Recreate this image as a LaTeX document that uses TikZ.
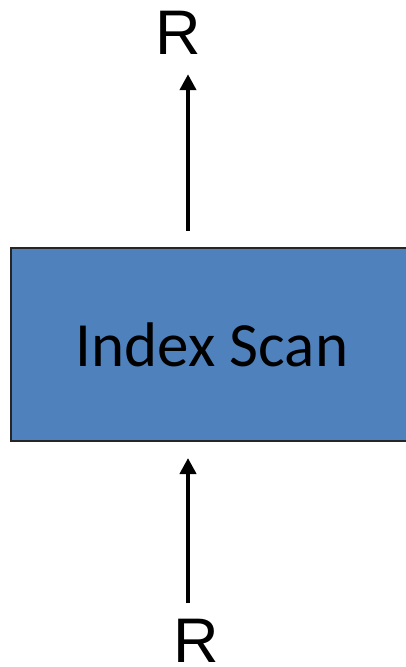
\documentclass[tikz,border=0pt]{standalone}
\usepackage{fontspec}
\setmainfont{Carlito}
\newfontfamily\arialfont{Liberation Sans}
\usetikzlibrary{arrows.meta}
\definecolor{scanblue}{RGB}{79,129,189}
\tikzstyle{bluebox} = [rectangle, minimum width=402pt, minimum height=193pt, draw=black!85, line width=2pt, fill=scanblue, font=\fontsize{63}{70}\selectfont]
\tikzstyle{relname} = [inner sep=0pt, anchor=base, font=\arialfont\fontsize{63}{70}\selectfont]
\tikzstyle{arrow} = [line width=4.5pt, -{Triangle[length=16pt, width=16pt]}]

\begin{document}
\begin{tikzpicture}[x=1pt, y=-1pt]
      \useasboundingbox (0,0) rectangle (406,667);
      \node (scan) [bluebox] at (212,344.5) {Index Scan};
      \node (rout) [relname] at (178,54) {R};
      \node (rin) [relname] at (196,662) {R};

      \coordinate (ax) at (188,0);
      \draw [arrow, shorten <=16pt, shorten >=20pt] (scan.north -| ax) -- (rout.south -| ax);
      \draw [arrow, shorten <=15pt, shorten >=16pt] (rin.north -| ax) -- (scan.south -| ax);
\end{tikzpicture}
\end{document}
